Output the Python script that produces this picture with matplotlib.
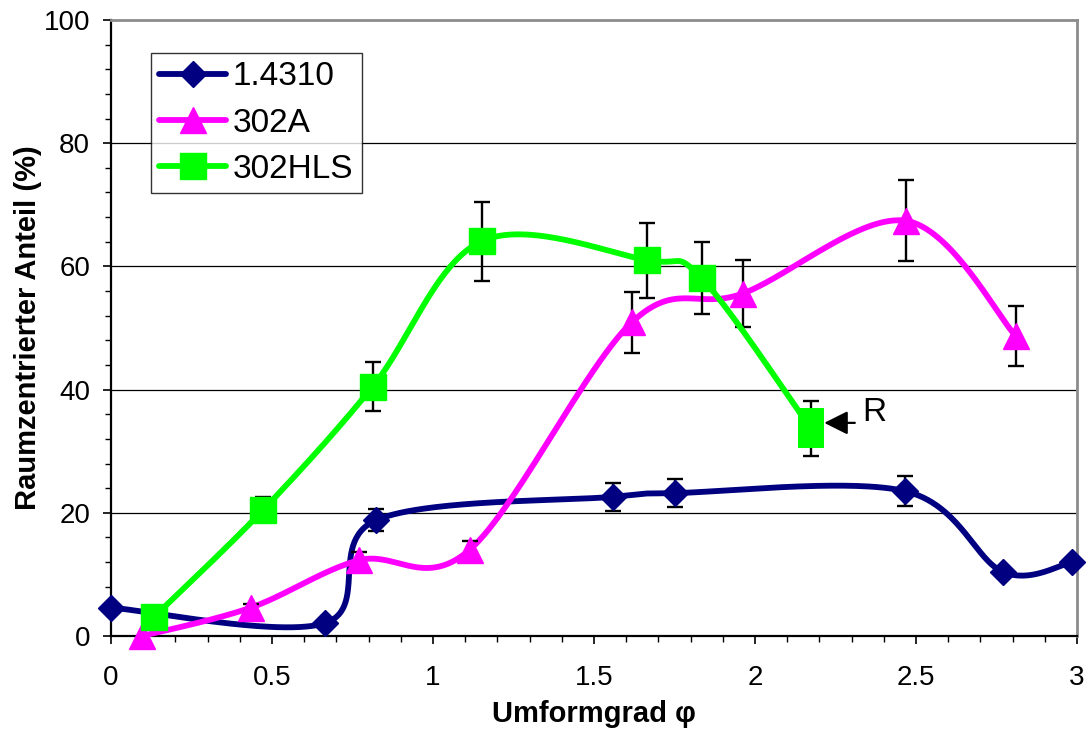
import numpy as np
import matplotlib
matplotlib.use("Agg")
import matplotlib.pyplot as plt
from matplotlib.lines import Line2D
from matplotlib.path import Path

plt.rcParams['font.family'] = ['Liberation Sans', 'DejaVu Sans']

# --- data -------------------------------------------------------------
x_14310 = [0.0, 0.665, 0.823, 1.56, 1.752, 2.467, 2.77, 2.985]
y_14310 = [4.6, 2.1, 18.8, 22.6, 23.2, 23.5, 10.4, 12.0]
e_14310 = [0.0, 0.0, 1.8, 2.25, 2.3, 2.4, 0.0, 0.0]

x_302A = [0.097, 0.434, 0.77, 1.114, 1.617, 1.962, 2.469, 2.81]
y_302A = [0.0, 4.6, 12.3, 14.0, 50.9, 55.6, 67.4, 48.7]
e_302A = [0.0, 0.6, 1.4, 1.4, 5.0, 5.5, 6.6, 4.9]

x_302HLS = [0.134, 0.473, 0.813, 1.151, 1.666, 1.834, 2.173]
y_302HLS = [3.1, 20.5, 40.5, 64.1, 61.0, 58.1, 33.7]
e_302HLS = [0.0, 2.0, 4.0, 6.4, 6.1, 5.8, 4.4]

series_names = ['1.4310', '302A', '302HLS']
x_ticks = [0, 0.5, 1, 1.5, 2, 2.5, 3]
y_ticks = [0, 20, 40, 60, 80, 100]


def smooth(xs, ys, n=60):
    """Cubic Bezier through the points with Catmull-Rom style handles (1/6)."""
    p = np.column_stack([xs, ys]).astype(float)
    out = [p[0]]
    t = np.linspace(0, 1, n)[1:, None]
    for i in range(len(p) - 1):
        prev = p[i - 1] if i > 0 else p[i]
        nxt = p[i + 2] if i + 2 < len(p) else p[i + 1]
        c1 = p[i] + (p[i + 1] - prev) / 6.0
        c2 = p[i + 1] - (nxt - p[i]) / 6.0
        seg = ((1 - t) ** 3) * p[i] + 3 * ((1 - t) ** 2) * t * c1 \
            + 3 * (1 - t) * t ** 2 * c2 + t ** 3 * p[i + 1]
        out.extend(seg)
    out = np.array(out)
    return out[:, 0], out[:, 1]


fig = plt.figure(figsize=(10.89, 7.31), dpi=100)
ax = fig.add_axes([111 / 1089, 1 - 636 / 731, 966 / 1089, 616 / 731])

navy = '#000080'
magenta = '#FF00FF'
lime = '#00FF00'
LW = 4.2

tall_box = Path([(-1, -1.5), (1, -1.5), (1, 1.5), (-1, 1.5), (-1, -1.5)],
                [Path.MOVETO, Path.LINETO, Path.LINETO, Path.LINETO, Path.CLOSEPOLY])

specs = [
    (x_14310, y_14310, e_14310, navy, 'D', 13.5),
    (x_302A, y_302A, e_302A, magenta, '^', 19),
    (x_302HLS, y_302HLS, e_302HLS, lime, 's', 19),
]

for k, (xs, ys, es, col, mk, ms) in enumerate(specs):
    z = 3 + k
    sx, sy = smooth(xs, ys)
    ax.plot(sx, sy, color=col, lw=LW, solid_capstyle='round',
            solid_joinstyle='round', zorder=z, clip_on=False)
    xs_a, ys_a, es_a = map(np.asarray, (xs, ys, es))
    m = es_a > 0
    ax.errorbar(xs_a[m], ys_a[m], yerr=es_a[m], fmt='none', ecolor='black',
                elinewidth=1.7, capsize=5.5, capthick=1.7, zorder=z + 0.1)
    if k == 2:
        ax.plot(xs_a[:-1], ys_a[:-1], linestyle='none', marker=mk, ms=ms,
                color=col, mec=col, zorder=z + 0.2, clip_on=False)
        ax.plot(xs_a[-1:], ys_a[-1:], linestyle='none', marker=tall_box,
                ms=28.8, color=col, mec=col, mew=0, zorder=z + 0.2, clip_on=False)
    else:
        ax.plot(xs_a, ys_a, linestyle='none', marker=mk, ms=ms, color=col,
                mec=col, zorder=z + 0.2, clip_on=False)

# annotation arrow "R"
ax.annotate('', xy=(2.215, 34.6), xytext=(2.31, 34.6),
            arrowprops=dict(arrowstyle='-|>', color='black', lw=1.6,
                            mutation_scale=36, shrinkA=0, shrinkB=0),
            zorder=8)
ax.text(2.333, 34.9, 'R', fontsize=24, va='baseline', ha='left', zorder=8)

# axes styling
ax.set_xlim(0, 3)
ax.set_ylim(0, 100)
ax.set_xticks(x_ticks)
ax.set_xticklabels([f'{v:g}' for v in x_ticks])
ax.set_yticks(y_ticks)
ax.set_xticks(np.arange(0, 3.001, 0.1), minor=True)
ax.set_yticks(np.arange(0, 100.01, 4), minor=True)
ax.tick_params(axis='both', which='major', labelsize=20, length=6, width=1.2,
               direction='out', color='black')
ax.tick_params(axis='both', which='minor', length=4.5, width=1.0,
               direction='out', color='black')
ax.tick_params(axis='x', which='major', pad=15)
ax.tick_params(axis='y', which='major', pad=9)

for yv in y_ticks[1:-1]:
    ax.axhline(yv, color='black', lw=0.9, zorder=1)

for s in ('left', 'bottom'):
    ax.spines[s].set_color('black')
    ax.spines[s].set_linewidth(1.6)
for s in ('top', 'right'):
    ax.spines[s].set_color('#8c8c8c')
    ax.spines[s].set_linewidth(2.0)

ax.set_xlabel('Umformgrad φ', fontsize=21, fontweight='bold', labelpad=6)
ax.set_ylabel('Raumzentrierter Anteil (%)', fontsize=21, fontweight='bold',
              labelpad=1.5)

handles = [Line2D([], [], color=c, lw=LW, marker=mk, ms=ms, mec=c,
                  solid_capstyle='round')
           for (_, _, _, c, mk, ms) in specs]
leg = ax.legend(handles, series_names, loc='upper left',
                bbox_to_anchor=(40 / 966, (636 - 53) / 616), borderaxespad=0,
                fontsize=24, frameon=True, fancybox=False, numpoints=1,
                handlelength=2.0, handletextpad=0.2, labelspacing=0.46,
                borderpad=0.25)
leg.get_frame().set_edgecolor('black')
leg.get_frame().set_linewidth(1.0)
leg.set_zorder(10)

fig.savefig('out.png', dpi=100)
